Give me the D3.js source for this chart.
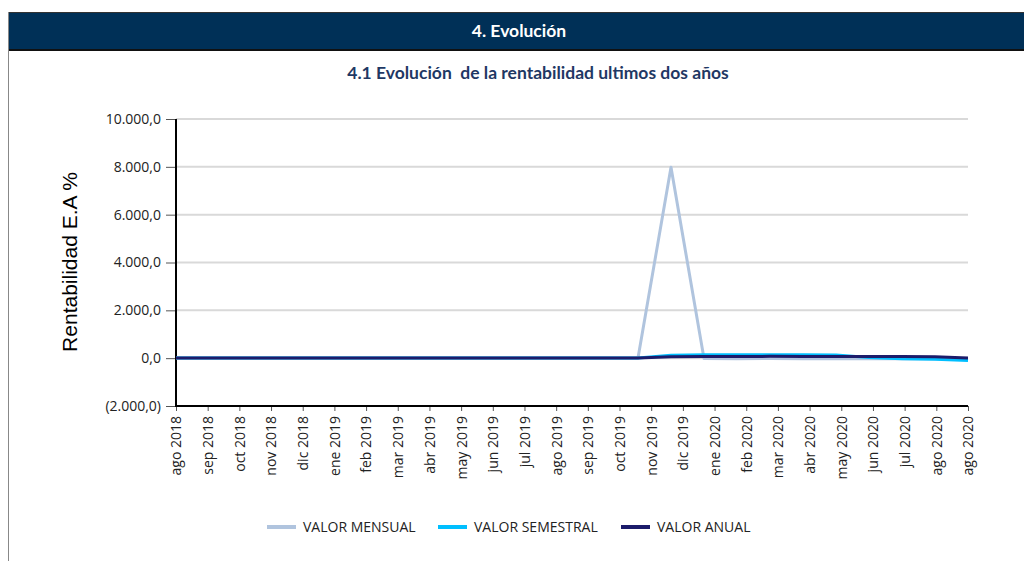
<!DOCTYPE html>
<html>
<head>
<meta charset="utf-8">
<script src="https://cdn.jsdelivr.net/npm/d3@7"></script>
<style>
  body { margin: 0; background: #fff; }
  svg { display: block; }
  .grid line { stroke: #d9d9d9; stroke-width: 2; }
  .tick text { font-family: "Open Sans", sans-serif; fill: #222; }
</style>
</head>
<body>
<div id="chart-container"></div>
<script>
// tick labels of the category axis (26 ticks, last month repeated as in the source)
let xLabels = ["ago 2018", "sep 2018", "oct 2018", "nov 2018", "dic 2018", "ene 2019", "feb 2019",
    "mar 2019", "abr 2019", "may 2019", "jun 2019", "jul 2019", "ago 2019", "sep 2019", "oct 2019",
    "nov 2019", "dic 2019", "ene 2020", "feb 2020", "mar 2020", "abr 2020", "may 2020", "jun 2020",
    "jul 2020", "ago 2020", "ago 2020"];

// monthly points ago 2018 .. ago 2020 (25 values)
let mensual = [4, 5, 5, 6, 5, 5, 4, 5, 6, 5, 5, 4, 5, 5, 6, 7980, -15, -20, -18, -22, -20, -25, -20, -22, -30];
let semestral = [5, 5, 5, 5, 5, 5, 5, 5, 5, 5, 5, 5, 5, 5, 8, 125, 140, 142, 145, 143, 135, 30, -20, -50, -100];
let anual = [4, 4, 4, 4, 4, 4, 4, 4, 4, 4, 4, 4, 4, 4, 5, 60, 70, 72, 75, 73, 72, 70, 65, 55, 10];

let seriesNames = ["VALOR MENSUAL", "VALOR SEMESTRAL", "VALOR ANUAL"];
let seriesColors = ["#b0c4de", "#00bfff", "#1c1c6b"];
let yTicks = [-2000, 0, 2000, 4000, 6000, 8000, 10000];

let W = 1024, H = 561;
let margin = {top: 119, right: 56, bottom: 155, left: 176};
let width = W - margin.left - margin.right;
let height = H - margin.top - margin.bottom;

let svg = d3.select('#chart-container').append('svg')
    .attr('width', W)
    .attr('height', H);

// header bar
svg.append('rect')
    .attr('x', 8).attr('y', 12).attr('width', W - 8).attr('height', 39)
    .attr('fill', '#003057');
svg.append('line')
    .attr('x1', 8).attr('x2', W).attr('y1', 12.5).attr('y2', 12.5)
    .attr('stroke', '#333').attr('stroke-width', 1);
svg.append('line')
    .attr('x1', 8).attr('x2', W).attr('y1', 50).attr('y2', 50)
    .attr('stroke', '#111').attr('stroke-width', 2);
svg.append('line')
    .attr('x1', 8.5).attr('x2', 8.5).attr('y1', 12).attr('y2', H)
    .attr('stroke', '#888').attr('stroke-width', 1);

svg.append('text')
    .attr('x', 519).attr('y', 37)
    .attr('text-anchor', 'middle')
    .attr('font-family', 'Lato, sans-serif')
    .attr('font-weight', 'bold')
    .attr('font-size', 17.5)
    .attr('fill', '#fff')
    .text('4. Evolución');

svg.append('text')
    .attr('x', 538).attr('y', 79)
    .attr('text-anchor', 'middle')
    .attr('font-family', 'Lato, sans-serif')
    .attr('font-weight', 'bold')
    .attr('font-size', 17.5)
    .attr('fill', '#1f3864')
    .style('white-space', 'pre')
    .text('4.1 Evolución  de la rentabilidad ultimos dos años');

let g = svg.append('g')
    .attr('transform', 'translate(' + margin.left + ',' + margin.top + ')');

// scales
let y = d3.scaleLinear().domain([-2000, 10000]).range([height, 0]);
let xTick = d3.scalePoint().domain(d3.range(xLabels.length)).range([0, width]);
let x = d3.scaleLinear().domain([0, mensual.length - 1]).range([0, width]);

// gridlines
g.append('g')
    .attr('class', 'grid')
    .selectAll('line')
    .data(yTicks.filter(function(d) { return d > -2000; }))
    .enter().append('line')
    .attr('x1', 0).attr('x2', width)
    .attr('y1', function(d) { return y(d); })
    .attr('y2', function(d) { return y(d); });

// y axis
let fmt = function(d) {
    let s = d3.format(',.1f')(Math.abs(d)).replace(/,/g, 'X').replace('.', ',').replace(/X/g, '.');
    return d < 0 ? '(' + s + ')' : s;
};
let yAxis = g.append('g')
    .call(d3.axisLeft(y).tickValues(yTicks).tickFormat(fmt).tickSize(10).tickPadding(5));
yAxis.select('.domain').remove();
yAxis.selectAll('.tick line').attr('stroke', '#555');
yAxis.selectAll('.tick text').attr('font-size', 14);

// x axis
let xAxis = g.append('g')
    .attr('transform', 'translate(0,' + height + ')')
    .call(d3.axisBottom(xTick).tickFormat(function(i) { return xLabels[i]; }).tickSize(5).tickSizeOuter(0));
xAxis.select('.domain').remove();
xAxis.selectAll('.tick line').attr('stroke', '#555');
xAxis.selectAll('.tick text')
    .attr('font-size', 14)
    .attr('text-anchor', 'end')
    .attr('transform', 'rotate(-90)')
    .attr('x', -10)
    .attr('y', 0)
    .attr('dy', '0.35em');

// axis lines
g.append('line')
    .attr('x1', 0).attr('x2', 0).attr('y1', 0).attr('y2', height)
    .attr('stroke', '#000').attr('stroke-width', 2);
g.append('line')
    .attr('x1', -1).attr('x2', width).attr('y1', height).attr('y2', height)
    .attr('stroke', '#000').attr('stroke-width', 2);

// lines
let line = d3.line()
    .x(function(d, i) { return x(i); })
    .y(function(d) { return y(d); });

[mensual, semestral, anual].forEach(function(s, k) {
    g.append('path')
        .datum(s)
        .attr('fill', 'none')
        .attr('stroke', seriesColors[k])
        .attr('stroke-width', 3)
        .attr('stroke-linejoin', 'round')
        .attr('d', line);
});

// y title
svg.append('text')
    .attr('transform', 'translate(77,262) rotate(-90)')
    .attr('text-anchor', 'middle')
    .attr('font-family', '"Liberation Sans", Arial, sans-serif')
    .attr('font-size', 21)
    .attr('fill', '#000')
    .text('Rentabilidad E.A %');

// legend
let legendX = [267, 438, 621];
let legend = svg.append('g');
seriesNames.forEach(function(name, k) {
    legend.append('line')
        .attr('x1', legendX[k]).attr('x2', legendX[k] + 29)
        .attr('y1', 527).attr('y2', 527)
        .attr('stroke', seriesColors[k]).attr('stroke-width', 4);
    legend.append('text')
        .attr('x', legendX[k] + 36).attr('y', 532)
        .attr('font-family', '"Open Sans", sans-serif')
        .attr('font-size', 14)
        .attr('fill', '#222')
        .text(name);
});
</script>
</body>
</html>
